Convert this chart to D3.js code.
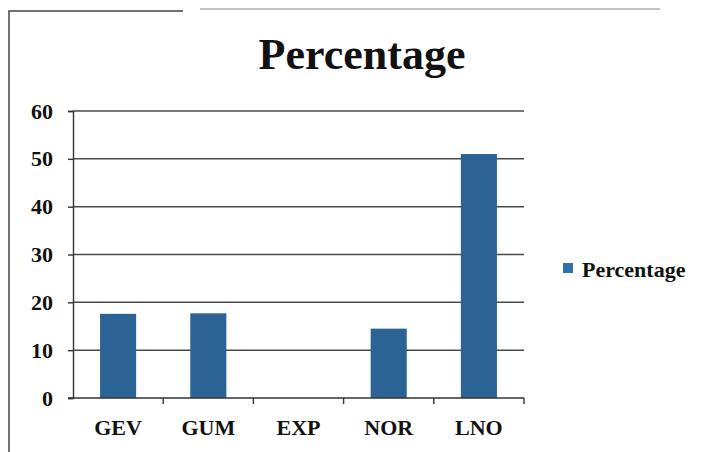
<!DOCTYPE html>
<html>
<head>
<meta charset="utf-8">
<script src="https://cdn.jsdelivr.net/npm/d3@7"></script>
<style>
  html, body { margin: 0; padding: 0; background: #fff; }
  svg { display: block; }
  text { font-family: "Liberation Serif", "Times New Roman", serif; fill: #111; }
</style>
</head>
<body>
<script>
// Share of stations best fitted by each distribution
const categories = ["GEV", "GUM", "EXP", "NOR", "LNO"];
const percentages = [17.6, 17.7, 0, 14.5, 51.0];
const yTicks = [0, 10, 20, 30, 40, 50, 60];
const seriesName = "Percentage";
const chartTitle = "Percentage";

const W = 702, H = 452;
const plot = { left: 73, right: 524, top: 111, bottom: 398 };

const svg = d3.select("body").append("svg")
  .attr("width", W).attr("height", H);

// chart frame (left and top edges)
svg.append("path")
  .attr("d", `M9,${H} L9,11 L183,11`)
  .attr("fill", "none").attr("stroke", "#444").attr("stroke-width", 1.5);
svg.append("path")
  .attr("d", `M200,9 L660,9`)
  .attr("fill", "none").attr("stroke", "#888").attr("stroke-width", 1.2);

const x = d3.scaleBand()
  .domain(categories)
  .range([plot.left, plot.right])
  .paddingInner(0.6)
  .paddingOuter(0.3);

const y = d3.scaleLinear()
  .domain([0, 60])
  .range([plot.bottom, plot.top]);

// horizontal gridlines
svg.append("g")
  .selectAll("line")
  .data(yTicks.filter(d => d > 0))
  .join("line")
  .attr("x1", plot.left).attr("x2", plot.right)
  .attr("y1", d => y(d)).attr("y2", d => y(d))
  .attr("stroke", "#4a4a4a").attr("stroke-width", 1.5);

// y axis
const yAxis = svg.append("g")
  .attr("transform", `translate(${plot.left},0)`)
  .call(d3.axisLeft(y).tickValues(yTicks).tickSize(5).tickPadding(15));
yAxis.select(".domain").attr("stroke", "#333").attr("stroke-width", 1.4);
yAxis.selectAll(".tick line").attr("stroke", "#333").attr("stroke-width", 1.4);
yAxis.selectAll(".tick text")
  .attr("font-size", 22).attr("font-weight", "bold")
  .attr("font-family", "Liberation Serif, serif").attr("fill", "#111");

// bars
svg.append("g")
  .selectAll("rect")
  .data(categories.map((c, i) => ({ c, v: percentages[i] })))
  .join("rect")
  .attr("x", d => x(d.c))
  .attr("width", x.bandwidth())
  .attr("y", d => y(d.v))
  .attr("height", d => y(0) - y(d.v))
  .attr("fill", "#2b6494");

// x axis with ticks at category boundaries
const bounds = d3.range(categories.length + 1)
  .map(i => plot.left + i * (plot.right - plot.left) / categories.length);
const xg = svg.append("g");
xg.append("line")
  .attr("x1", plot.left - 5).attr("x2", plot.right)
  .attr("y1", y(0)).attr("y2", y(0))
  .attr("stroke", "#333").attr("stroke-width", 1.4);
xg.selectAll("line.tk")
  .data(bounds.slice(1))
  .join("line").attr("class", "tk")
  .attr("x1", d => d).attr("x2", d => d)
  .attr("y1", y(0)).attr("y2", y(0) + 6)
  .attr("stroke", "#333").attr("stroke-width", 1.4);
xg.selectAll("text")
  .data(categories)
  .join("text")
  .attr("x", d => x(d) + x.bandwidth() / 2)
  .attr("y", 435)
  .attr("text-anchor", "middle")
  .attr("font-size", 22).attr("font-weight", "bold")
  .text(d => d);

// title
svg.append("text")
  .attr("x", 362).attr("y", 69)
  .attr("text-anchor", "middle")
  .attr("font-size", 44).attr("font-weight", "bold")
  .text(chartTitle);

// legend
const lg = svg.append("g").attr("transform", "translate(563,263)");
lg.append("rect").attr("width", 10).attr("height", 10).attr("fill", "#2f6fae");
lg.append("text")
  .attr("x", 19).attr("y", 14)
  .attr("font-size", 22).attr("font-weight", "bold")
  .text(seriesName);
</script>
</body>
</html>
